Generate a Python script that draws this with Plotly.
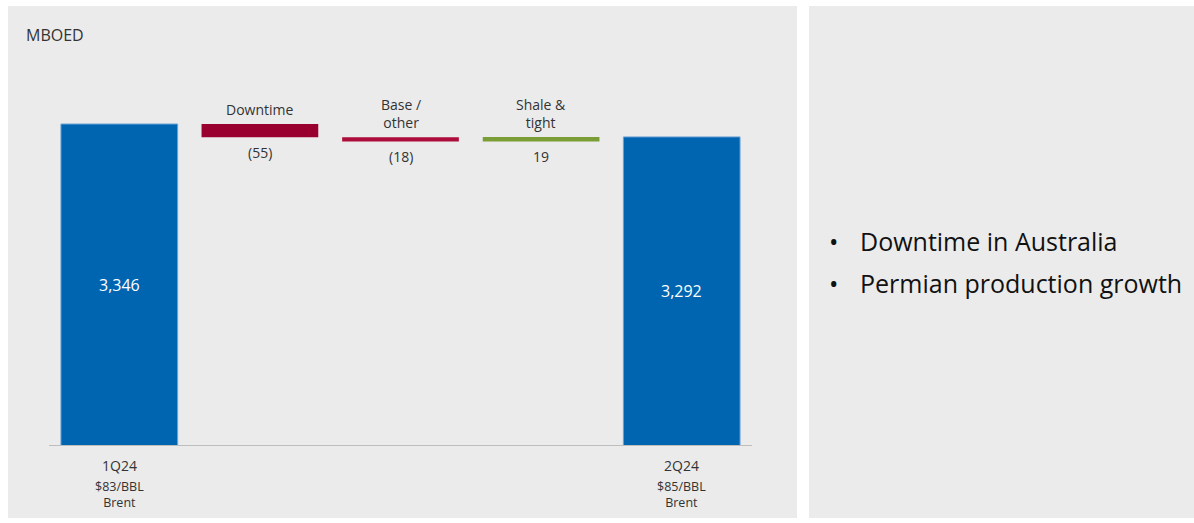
import plotly.graph_objects as go

# ---- data ----
categories = ["1Q24", "Downtime", "Base / other", "Shale & tight", "2Q24"]
start_value = 3346
end_value = 3292
change_labels = ["Downtime", "Base /<br>other", "Shale &<br>tight"]
change_values = [-55, -18, 19]
cat_sub1 = ["$83/BBL", "$85/BBL"]
cat_sub2 = ["Brent", "Brent"]
bullets = ["Downtime in Australia", "Permian production growth"]
unit_label = "MBOED"

# ---- styling ----
W, H = 1194, 523
BLUE = "#0065b1"
RED_DOWN = "#990030"
RED_BASE = "#ac0d3a"
GREEN = "#7a9d35"
PANEL = "#ebebeb"
TXT = "#333333"
FONT = "Open Sans"
Y_FLOOR = 2000  # truncated axis start


def px(x):
    return x / W


def py(y):
    return 1 - y / H


change_colors = [RED_DOWN, RED_BASE, GREEN]

fig = go.Figure()

# start / end totals
fig.add_trace(go.Bar(
    x=[categories[0], categories[-1]], y=[start_value, end_value],
    marker=dict(color=BLUE, line=dict(color="#6fa3d6", width=1)),
    width=0.83, hoverinfo="skip"))

# changes
bases = []
running = start_value
for v in change_values:
    bases.append(running)
    running += v
fig.add_trace(go.Bar(
    x=categories[1:4], y=change_values, base=bases,
    marker=dict(color=change_colors, line=dict(width=0)),
    width=0.83, hoverinfo="skip"))

ann = []
# values inside total bars
for cat, v in [(categories[0], start_value), (categories[-1], end_value)]:
    ann.append(dict(x=cat, y=(Y_FLOOR + v) / 2, text=f"{v:,}", showarrow=False,
                    font=dict(family=FONT, size=16, color="white"), xref="x", yref="y"))

# labels for changes
for cat, lab, b, v in zip(categories[1:4], change_labels, bases, change_values):
    top = max(b, b + v)
    bot = min(b, b + v)
    ann.append(dict(x=cat, y=top, text=lab, showarrow=False, yanchor="bottom", yshift=3,
                    font=dict(family=FONT, size=14, color=TXT), xref="x", yref="y"))
    txt = f"({abs(v)})" if v < 0 else f"{v}"
    ann.append(dict(x=cat, y=bot, text=txt, showarrow=False, yanchor="top", yshift=-4,
                    font=dict(family=FONT, size=14, color=TXT), xref="x", yref="y"))

# category labels below axis
for i, cat in enumerate([categories[0], categories[-1]]):
    ann.append(dict(x=cat, y=Y_FLOOR, text=cat, showarrow=False, yanchor="top", yshift=-8,
                    font=dict(family=FONT, size=14, color=TXT), xref="x", yref="y"))
    ann.append(dict(x=cat, y=Y_FLOOR, text=cat_sub1[i] + "<br>" + cat_sub2[i], showarrow=False,
                    yanchor="top", yshift=-30,
                    font=dict(family=FONT, size=12.5, color=TXT), xref="x", yref="y"))

# unit label
ann.append(dict(x=px(24), y=py(35), xref="paper", yref="paper", text=unit_label,
                showarrow=False, xanchor="left", yanchor="middle",
                font=dict(family=FONT, size=16, color=TXT)))

# bullets on right panel
for j, b in enumerate(bullets):
    yy = py(241 + j * 42)
    ann.append(dict(x=px(827), y=yy, xref="paper", yref="paper", text="•",
                    showarrow=False, xanchor="left", yanchor="middle",
                    font=dict(family=FONT, size=25, color="#111111")))
    ann.append(dict(x=px(858), y=yy, xref="paper", yref="paper", text=b,
                    showarrow=False, xanchor="left", yanchor="middle",
                    font=dict(family=FONT, size=25, color="#111111")))

shapes = [
    dict(type="rect", xref="paper", yref="paper", x0=px(8), x1=px(797),
         y0=py(518), y1=py(6), fillcolor=PANEL, line=dict(width=0), layer="below"),
    dict(type="rect", xref="paper", yref="paper", x0=px(809), x1=1.0,
         y0=py(518), y1=py(6), fillcolor=PANEL, line=dict(width=0), layer="below"),
    dict(type="line", xref="x", yref="y", x0=-0.5, x1=4.5, y0=Y_FLOOR, y1=Y_FLOOR,
         line=dict(color="#bdbdbd", width=2), layer="above"),
]

# plot area in pixels
x0p, x1p = 49, 752
ybot, ytop = 446, 60
scale = (ybot - 124) / (start_value - Y_FLOOR)
y_top_val = Y_FLOOR + (ybot - ytop) / scale

fig.update_layout(
    width=W, height=H, margin=dict(l=0, r=0, t=0, b=0),
    paper_bgcolor="white", plot_bgcolor="rgba(0,0,0,0)",
    showlegend=False, barmode="overlay",
    xaxis=dict(domain=[px(x0p), px(x1p)], type="category", categoryorder="array",
               categoryarray=categories, range=[-0.5, 4.5], showticklabels=False,
               showgrid=False, zeroline=False, showline=False, ticks=""),
    yaxis=dict(domain=[py(ybot), py(ytop)], range=[Y_FLOOR, y_top_val],
               visible=False, showgrid=False, zeroline=False),
    annotations=ann, shapes=shapes,
)

fig.write_html(
    "out.html",
    config={"displayModeBar": False},
    post_script="document.body.style.margin='0';document.body.style.overflow='hidden';",
)
